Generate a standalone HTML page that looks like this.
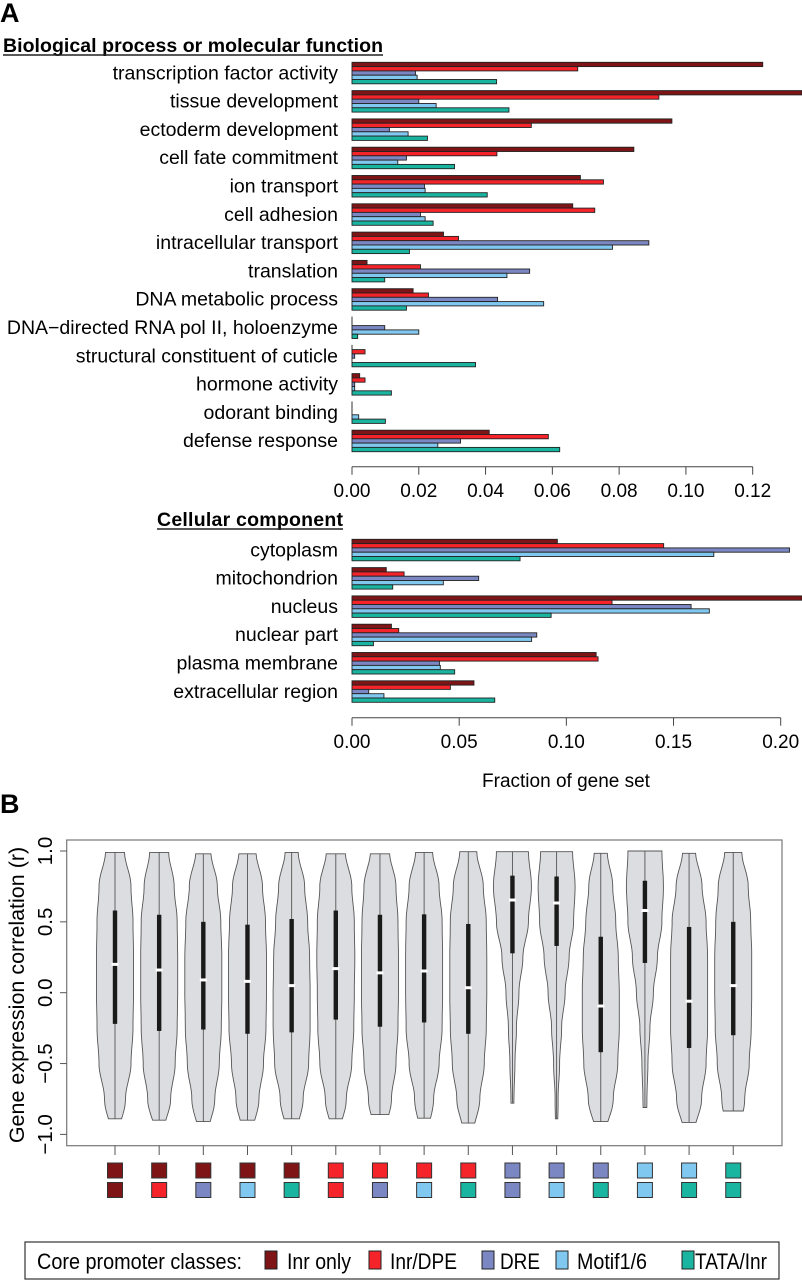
<!DOCTYPE html>
<html><head><meta charset="utf-8"><style>
html,body{margin:0;padding:0;background:#fff;}
svg{display:block;font-family:"Liberation Sans",Arial,sans-serif;}
</style></head><body>
<svg id="fig" width="802" height="1280" viewBox="0 0 802 1280" xmlns="http://www.w3.org/2000/svg">
<text x="0" y="22" font-size="27" font-weight="bold">A</text>
<text x="3" y="52" font-size="19.5" font-weight="bold" textLength="380">Biological process or molecular function</text>
<line x1="3" y1="55" x2="383" y2="55" stroke="#222" stroke-width="1.5"/>
<text x="157" y="526" font-size="19.5" font-weight="bold" textLength="186">Cellular component</text>
<line x1="157" y1="529" x2="343" y2="529" stroke="#222" stroke-width="1.5"/>
<text x="566" y="787" font-size="19" text-anchor="middle">Fraction of gene set</text>
<text x="0" y="813" font-size="27" font-weight="bold">B</text>
<g id="barsTop"></g>
<g id="barsBot"></g>
<g id="violins"></g>
<g>
<rect x="25" y="1242" width="754" height="37" fill="#fff" stroke="#333" stroke-width="1.2"/>
<text x="37" y="1269" font-size="22" textLength="205" lengthAdjust="spacingAndGlyphs">Core promoter classes:</text>
<rect x="265" y="1251" width="12" height="18" fill="#7f1416" stroke="#222"/>
<text x="287" y="1269" font-size="22" textLength="64" lengthAdjust="spacingAndGlyphs">Inr only</text>
<rect x="369" y="1251" width="12" height="18" fill="#f5242a" stroke="#222"/>
<text x="390" y="1269" font-size="22" textLength="67" lengthAdjust="spacingAndGlyphs">Inr/DPE</text>
<rect x="482" y="1251" width="12" height="18" fill="#7b87c2" stroke="#222"/>
<text x="500" y="1269" font-size="22" textLength="40" lengthAdjust="spacingAndGlyphs">DRE</text>
<rect x="556" y="1251" width="12" height="18" fill="#80c8f0" stroke="#222"/>
<text x="577" y="1269" font-size="22" textLength="70" lengthAdjust="spacingAndGlyphs">Motif1/6</text>
<rect x="682" y="1251" width="12" height="18" fill="#1ab5a0" stroke="#222"/>
<text x="695" y="1269" font-size="22" textLength="72" lengthAdjust="spacingAndGlyphs">TATA/Inr</text>
</g>
</svg>
<script>
const topCategories=["transcription factor activity","tissue development","ectoderm development","cell fate commitment","ion transport","cell adhesion","intracellular transport","translation","DNA metabolic process","DNA\u2212directed RNA pol II, holoenzyme","structural constituent of cuticle","hormone activity","odorant binding","defense response"];
const topInrOnly=[0.123,0.1347,0.0958,0.0844,0.0684,0.0661,0.0274,0.0045,0.0183,0,0,0.0023,0,0.0411];
const topInrDpe=[0.0676,0.0919,0.0537,0.0434,0.0753,0.0727,0.0319,0.0205,0.0229,0,0.0039,0.0039,0,0.0588];
const topDre=[0.019,0.020,0.0112,0.0163,0.0217,0.0205,0.0889,0.0532,0.0436,0.0098,0.0008,0.0008,0,0.0325];
const topMotif=[0.0195,0.0252,0.0168,0.0137,0.0219,0.0219,0.078,0.0464,0.0574,0.0200,0,0.0008,0.002,0.0257];
const topTata=[0.0433,0.047,0.0226,0.0307,0.0405,0.0243,0.0172,0.0098,0.0163,0.0017,0.037,0.0118,0.01,0.0622];
const topTicks=["0.00","0.02","0.04","0.06","0.08","0.10","0.12"];
const botCategories=["cytoplasm","mitochondrion","nucleus","nuclear part","plasma membrane","extracellular region"];
const botInrOnly=[0.0958,0.016,0.21,0.0184,0.1139,0.0569];
const botInrDpe=[0.1454,0.0243,0.1213,0.0218,0.1148,0.0459];
const botDre=[0.2041,0.0591,0.1582,0.0862,0.0408,0.0078];
const botMotif=[0.1688,0.0426,0.1667,0.0838,0.0412,0.0149];
const botTata=[0.0784,0.019,0.0929,0.01,0.0479,0.0666];
const botTicks=["0.00","0.05","0.10","0.15","0.20"];
const vMax=[0.99,0.99,0.98,0.98,0.99,0.98,0.98,0.99,0.995,0.995,0.995,0.984,1.0,0.984,0.99];
const vMin=[-0.89,-0.9,-0.91,-0.9,-0.89,-0.89,-0.86,-0.886,-0.92,-0.78,-0.89,-0.91,-0.81,-0.915,-0.835];
const vQ3=[0.58,0.55,0.5,0.48,0.52,0.58,0.55,0.553,0.485,0.826,0.82,0.395,0.79,0.464,0.5];
const vQ1=[-0.22,-0.27,-0.26,-0.29,-0.28,-0.19,-0.24,-0.21,-0.29,0.278,0.33,-0.42,0.21,-0.39,-0.3];
const vMed=[0.2,0.16,0.09,0.08,0.05,0.17,0.14,0.153,0.035,0.654,0.633,-0.094,0.58,-0.06,0.05];
const vLevels=[1,0.75,0.5,0.25,0,-0.25,-0.5,-0.75,-1];
const vWidths=[
[9.5,16,18,18.5,18.5,18,16,10.5,4],[9.5,15,18,18.5,18.5,18,16,11.5,4],[7.5,14,17.5,18.5,18.5,18,16,11.5,5],
[8.5,15,18,19,19,18.5,16,11.5,5],[6.5,13,16,18,18.5,18.5,17,11.5,5],[9.5,16,18.5,19,18.5,18,16,10.5,4],
[9.5,16,18,18.5,18.5,18,16,11.5,5],[8.5,15,18,18.5,18.5,18,15,9.5,4],[8.5,15,18,18.5,18.5,18,16,11.5,5],
[16,19,16,10.5,6.5,4,2.5,1.5,1],[16,18.5,17,12.5,8.5,5,3,1.5,1],[6.5,12,15,17.5,18.5,18.5,17,12.5,5],
[17,18.5,17,12.5,8.5,5,3,2,1],[6.5,13,17,18.5,18.5,18.5,17,12.5,5],[8.5,15,17.5,18.5,18.5,18,16,11.5,6]];
const classTop=[0,0,0,0,0,1,1,1,1,2,2,2,3,3,4];
const classBot=[0,1,2,3,4,1,2,3,4,2,3,4,3,4,4];
const yTicks=["1.0","0.5","0.0","\u22120.5","\u22121.0"];
const yTickVals=[1,0.5,0,-0.5,-1];

const NS="http://www.w3.org/2000/svg";
const COLORS=["#7f1416","#f5242a","#7b87c2","#80c8f0","#1ab5a0"];
const SER=["inr-only","inr-dpe","dre","motif","tata"];
function mk(tag,attrs,parent){const e=document.createElementNS(NS,tag);for(const k in attrs)e.setAttribute(k,attrs[k]);parent.appendChild(e);return e;}

function barChart(g,cats,series,ticks,x0,x1,tickMax,yTop,axisY,labelY){
  const sx=v=>x0+v/tickMax*(x1-x0);
  cats.forEach((c,i)=>{
    const gt=yTop+i*28.3;
    const t=mk("text",{x:338,y:gt+17,"font-size":"19.5","text-anchor":"end"},g);
    
    
    t.textContent=c;
    series.forEach((s,j)=>{
      const w=Math.min(sx(s[i]),802)-x0;
      const r=mk("rect",{x:x0,y:gt+j*4.3,width:Math.max(w,0.01),height:4.3,fill:COLORS[j],stroke:"#222","stroke-width":"0.9"},g);
      
      
    });
  });
  const ax=mk("line",{x1:x0,y1:axisY,x2:x1,y2:axisY,stroke:"#444","stroke-width":"1"},g);
  
  
  ticks.forEach((tk,k)=>{
    const x=x0+k*(x1-x0)/(ticks.length-1);
    mk("line",{x1:x,y1:axisY,x2:x,y2:axisY+8,stroke:"#444"},g);
    const t=mk("text",{x:x,y:labelY,"font-size":"19","text-anchor":"middle"},g);
    
    
    t.textContent=tk;
  });
}
barChart(document.getElementById("barsTop"),topCategories,[topInrOnly,topInrDpe,topDre,topMotif,topTata],topTicks,352,752.7,0.12,62.3,466.7,497);
barChart(document.getElementById("barsBot"),botCategories,[botInrOnly,botInrDpe,botDre,botMotif,botTata],botTicks,352,780.7,0.20,539.3,717.7,748);

const vg=document.getElementById("violins");
const sy=v=>992.7-v*141.7;
const cx=i=>115+i*44.16;
const box=mk("rect",{x:66.7,y:840,width:715.3,height:305.7,fill:"none",stroke:"#777","stroke-width":"1.2"},vg);


yTickVals.forEach((v,k)=>{
  mk("line",{x1:60,y1:sy(v),x2:66.7,y2:sy(v),stroke:"#555"},vg);
  const t=mk("text",{x:0,y:0,"font-size":"20.5","text-anchor":"middle",transform:`translate(52,${sy(v)}) rotate(-90)`},vg);
  
  
  t.textContent=yTicks[k];
});
const yt=mk("text",{x:0,y:0,"font-size":"21.5","text-anchor":"middle",transform:"translate(24,995) rotate(-90)"},vg);


yt.textContent="Gene expression correlation (r)";
function halfW(i,v){
  const L=vLevels,W=vWidths[i];
  for(let k=0;k<L.length-1;k++){if(v<=L[k]&&v>=L[k+1]){const f=(L[k]-v)/(L[k]-L[k+1]);const s=(1-Math.cos(f*Math.PI))/2;return W[k]+(W[k+1]-W[k])*s;}}
  return W[W.length-1];
}
vMax.forEach((mx,i)=>{
  const c=cx(i),mn=vMin[i];
  const N=60;let right=[],left=[];
  for(let s=0;s<=N;s++){const v=mx-(mx-mn)*s/N;const w=halfW(i,v);right.push([c+w,sy(v)]);left.push([c-w,sy(v)]);}
  const pts=right.concat(left.reverse());
  const d="M"+pts.map(p=>p[0].toFixed(1)+","+p[1].toFixed(1)).join("L")+"Z";
  const p=mk("path",{d:d,fill:"#dcdde0",stroke:"#555","stroke-width":"0.9"},vg);
  
  
  mk("line",{x1:c,y1:sy(mx),x2:c,y2:sy(mn),stroke:"#555","stroke-width":"0.9"},vg);
  const iq=mk("rect",{x:c-2.2,y:sy(vQ3[i]),width:4.4,height:sy(vQ1[i])-sy(vQ3[i]),fill:"#1a1a1a"},vg);
  
  
  const md=mk("rect",{x:c-3.5,y:sy(vMed[i])-1.5,width:7,height:3,fill:"#fff"},vg);
  
  
  mk("line",{x1:c,y1:1145.7,x2:c,y2:1155,stroke:"#555"},vg);
  const s1=mk("rect",{x:c-7.5,y:1163,width:15,height:15,fill:COLORS[classTop[i]],stroke:"#333","stroke-width":"1"},vg);
  
  
  const s2=mk("rect",{x:c-7.5,y:1182.5,width:15,height:15,fill:COLORS[classBot[i]],stroke:"#333","stroke-width":"1"},vg);
  
  
});
</script>
</body></html>
